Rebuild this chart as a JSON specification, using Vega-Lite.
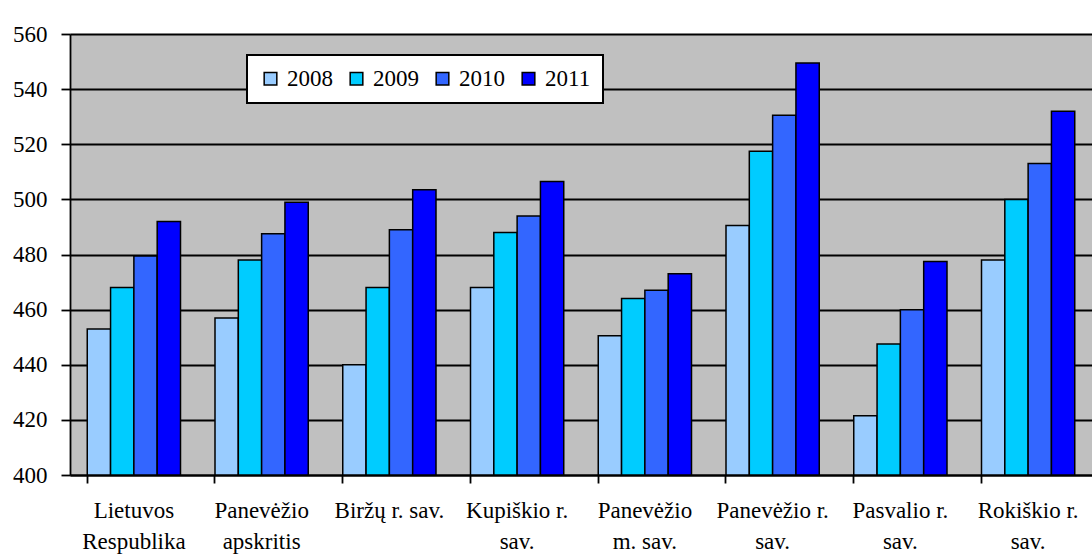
{
  "$schema": "https://vega.github.io/schema/vega-lite/v6.json",
  "autosize": {"type": "none"},
  "width": 1022,
  "height": 441,
  "padding": {"left": 70, "top": 34, "right": 0, "bottom": 83},
  "background": "white",
  "config": {
    "view": {"fill": "#C0C0C0", "stroke": null},
    "font": "Liberation Serif",
    "axis": {"labelFont": "Liberation Serif"},
    "legend": {"labelFont": "Liberation Serif"}
  },
  "data": {
    "values": [
      {"region": "Lietuvos Respublika", "year": "2008", "value": 453},
      {"region": "Lietuvos Respublika", "year": "2009", "value": 468},
      {"region": "Lietuvos Respublika", "year": "2010", "value": 479.5},
      {"region": "Lietuvos Respublika", "year": "2011", "value": 492},
      {"region": "Panevėžio apskritis", "year": "2008", "value": 457},
      {"region": "Panevėžio apskritis", "year": "2009", "value": 478},
      {"region": "Panevėžio apskritis", "year": "2010", "value": 487.5},
      {"region": "Panevėžio apskritis", "year": "2011", "value": 499},
      {"region": "Biržų r. sav.", "year": "2008", "value": 440},
      {"region": "Biržų r. sav.", "year": "2009", "value": 468},
      {"region": "Biržų r. sav.", "year": "2010", "value": 489},
      {"region": "Biržų r. sav.", "year": "2011", "value": 503.5},
      {"region": "Kupiškio r. sav.", "year": "2008", "value": 468},
      {"region": "Kupiškio r. sav.", "year": "2009", "value": 488},
      {"region": "Kupiškio r. sav.", "year": "2010", "value": 494},
      {"region": "Kupiškio r. sav.", "year": "2011", "value": 506.5},
      {"region": "Panevėžio m. sav.", "year": "2008", "value": 450.5},
      {"region": "Panevėžio m. sav.", "year": "2009", "value": 464},
      {"region": "Panevėžio m. sav.", "year": "2010", "value": 467},
      {"region": "Panevėžio m. sav.", "year": "2011", "value": 473},
      {"region": "Panevėžio r. sav.", "year": "2008", "value": 490.5},
      {"region": "Panevėžio r. sav.", "year": "2009", "value": 517.5},
      {"region": "Panevėžio r. sav.", "year": "2010", "value": 530.5},
      {"region": "Panevėžio r. sav.", "year": "2011", "value": 549.5},
      {"region": "Pasvalio r. sav.", "year": "2008", "value": 421.5},
      {"region": "Pasvalio r. sav.", "year": "2009", "value": 447.5},
      {"region": "Pasvalio r. sav.", "year": "2010", "value": 460},
      {"region": "Pasvalio r. sav.", "year": "2011", "value": 477.5},
      {"region": "Rokiškio r. sav.", "year": "2008", "value": 478},
      {"region": "Rokiškio r. sav.", "year": "2009", "value": 500},
      {"region": "Rokiškio r. sav.", "year": "2010", "value": 513},
      {"region": "Rokiškio r. sav.", "year": "2011", "value": 532}
    ]
  },
  "mark": {"type": "bar", "stroke": "black", "strokeWidth": 1.5},
  "encoding": {
    "x": {
      "field": "region",
      "type": "nominal",
      "sort": null,
      "scale": {"paddingInner": 0.27, "paddingOuter": 0.135},
      "axis": {
        "title": null,
        "labelAngle": 0,
        "bandPosition": 0,
        "domainColor": "black",
        "domainWidth": 1.8,
        "tickColor": "black",
        "tickWidth": 1.8,
        "tickSize": 8,
        "labelFont": "Liberation Serif",
        "labelFontSize": 23,
        "labelColor": "black",
        "labelPadding": 16,
        "labelLineHeight": 31,
        "labelLimit": 200,
        "labelBaseline": "top",
        "labelExpr": "datum.value == 'Lietuvos Respublika' ? ['Lietuvos', 'Respublika'] : datum.value == 'Panevėžio apskritis' ? ['Panevėžio', 'apskritis'] : datum.value == 'Biržų r. sav.' ? 'Biržų r. sav.' : datum.value == 'Panevėžio m. sav.' ? ['Panevėžio', 'm. sav.'] : [replace(datum.value, ' sav.', ''), 'sav.']"
      }
    },
    "xOffset": {"field": "year", "type": "nominal", "scale": {"paddingInner": 0, "paddingOuter": 0}},
    "y": {
      "field": "value",
      "type": "quantitative",
      "scale": {"domain": [400, 560], "nice": false, "zero": false},
      "axis": {
        "title": null,
        "values": [400, 420, 440, 460, 480, 500, 520, 540, 560],
        "grid": true,
        "gridColor": "black",
        "gridWidth": 1.8,
        "gridOpacity": 1,
        "domainColor": "black",
        "domainWidth": 1.8,
        "tickColor": "black",
        "tickWidth": 1.8,
        "tickSize": 9,
        "labelFont": "Liberation Serif",
        "labelFontSize": 23,
        "labelColor": "black",
        "labelPadding": 14
      }
    },
    "y2": {"datum": 400},
    "color": {
      "field": "year",
      "type": "nominal",
      "scale": {"domain": ["2008", "2009", "2010", "2011"], "range": ["#99CCFF", "#00CCFF", "#3366FF", "#0000FF"]},
      "legend": {
        "title": null,
        "orient": "none",
        "legendX": 177,
        "legendY": 21,
        "direction": "horizontal",
        "columns": 4,
        "fillColor": "white",
        "strokeColor": "black",
        "padding": 12,
        "symbolType": "square",
        "symbolSize": 160,
        "symbolStrokeColor": "black",
        "symbolStrokeWidth": 1.5,
        "labelFont": "Liberation Serif",
        "labelFontSize": 23,
        "labelColor": "black",
        "labelOffset": 5,
        "columnPadding": 12,
        "encode": {"legend": {"update": {"strokeWidth": {"value": 2}}}}
      }
    }
  }
}
